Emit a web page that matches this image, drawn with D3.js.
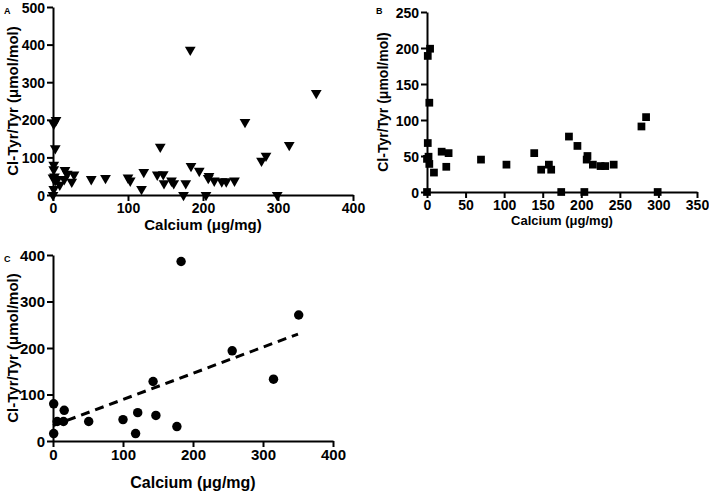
<!DOCTYPE html>
<html><head><meta charset="utf-8">
<script src="https://cdn.jsdelivr.net/npm/d3@7"></script>
<style>
html,body{margin:0;padding:0;background:#fff;}
svg{display:block;font-family:"Liberation Sans",Arial,Helvetica,sans-serif;font-weight:bold;}
</style></head>
<body><svg id="chart" width="709" height="492"></svg>
<script>
// Panel B data (squares): calcium (µg/mg), Cl-Tyr/Tyr (µmol/mol)
const calciumB = [0,0,1,1,2,3,3,4,9,19,25,28,70,103,139,148,158,161,174,184,195,207,208,215,225,231,242,204,278,284,299];
const clTyrB   = [0,46,189,68,49,39,124,199,27,56,35,54,45,38,54,31,38,31,0,77,64,45,50,38,36,36,38,0,91,104,0];
// Panel C data (circles)
const calciumC = [1,1,6,15,16,51,100,118,121,143,147,177,183,256,315,351];
const clTyrC   = [16,80,42,42,66,42,46,16,61,128,55,31,386,194,133,271];
// Panel C regression line (calcium, Cl-Tyr/Tyr) at its two ends
const fitCalcium = [0, 350];
const fitClTyr   = [33, 230];
// Tick labels
const ticksAx = [0,100,200,300,400];
const ticksAy = [0,100,200,300,400,500];
const ticksBx = [0,50,100,150,200,250,300,350];
const ticksBy = [0,50,100,150,200,250];
const ticksCx = [0,100,200,300,400];
const ticksCy = [0,100,200,300,400];

const yTitle = "Cl-Tyr/Tyr (\u03bcmol/mol)";
const xTitle = "Calcium (\u03bcg/mg)";
const tickFont = "'Liberation Sans Narrow','Arial Narrow','Liberation Sans',Arial,sans-serif";

const svg = d3.select("#chart");

function panel(o){
  const g = svg.append("g");
  const x = d3.scaleLinear().domain(o.xd).range([o.x0, o.x1]);
  const y = d3.scaleLinear().domain(o.yd).range([o.y0, o.y1]);
  const xa = g.append("g").attr("transform",`translate(0,${o.y0})`)
    .call(d3.axisBottom(x).tickValues(o.xt).tickSize(6).tickPadding(2).tickSizeOuter(0));
  const ya = g.append("g").attr("transform",`translate(${o.x0},0)`)
    .call(d3.axisLeft(y).tickValues(o.yt).tickSize(6).tickPadding(2).tickSizeOuter(0));
  [xa,ya].forEach(a=>{
    a.select(".domain").attr("stroke","#000").attr("stroke-width",2);
    a.selectAll(".tick line").attr("stroke","#000").attr("stroke-width",2);
    a.selectAll(".tick text").attr("fill","#000").style("font-size",o.tf+"px")
      .style("font-family",tickFont).style("font-weight","bold");
  });
  xa.selectAll(".tick text").attr("dy","0.72em");
  ya.selectAll(".tick text").attr("dy","0.36em");
  // points
  const sym = d3.symbol().type(o.sym).size(o.ss);
  g.append("g").selectAll("path").data(o.xs.map((v,i)=>[v,o.ys[i]])).join("path")
    .attr("d",sym)
    .attr("transform",d=>`translate(${x(d[0])},${y(d[1])})${o.rot?" rotate(180)":""}`)
    .attr("fill","#000");
  if(o.fit){
    g.append("line")
      .attr("x1",x(o.fit[0][0])).attr("y1",y(o.fit[1][0]))
      .attr("x2",x(o.fit[0][1])).attr("y2",y(o.fit[1][1]))
      .attr("stroke","#000").attr("stroke-width",3).attr("stroke-dasharray","9,6");
  }
  // titles
  g.append("text").attr("x",(o.x0+o.x1)/2).attr("y",o.xty).attr("text-anchor","middle")
    .style("font-size",o.xtf+"px").text(xTitle);
  g.append("text").attr("transform",`translate(${o.ytx},${(o.y0+o.y1)/2}) rotate(-90)`)
    .attr("text-anchor","middle").style("font-size",o.ytf+"px").text(yTitle);
  g.append("text").attr("x",o.lx).attr("y",o.ly).style("font-size","9px").text(o.label);
}

panel({x0:53,x1:353,y0:195,y1:7,xd:[0,400],yd:[0,500],xt:ticksAx,yt:ticksAy,
  xs:calciumB.concat(calciumC), ys:clTyrB.concat(clTyrC),
  sym:d3.symbolTriangle, ss:50, rot:true, tf:14, xtf:15, ytf:15, xty:230, ytx:18,
  label:"A", lx:4, ly:14});
panel({x0:427,x1:697,y0:192,y1:12,xd:[0,350],yd:[0,250],xt:ticksBx,yt:ticksBy,
  xs:calciumB, ys:clTyrB, sym:d3.symbolSquare, ss:60, rot:false, tf:14, xtf:13, ytf:14, xty:225, ytx:388,
  label:"B", lx:376, ly:14});
panel({x0:53,x1:333,y0:441,y1:255,xd:[0,400],yd:[0,400],xt:ticksCx,yt:ticksCy,
  xs:calciumC, ys:clTyrC, sym:d3.symbolCircle, ss:70, rot:false, tf:15, xtf:16, ytf:15, xty:488, ytx:18,
  label:"C", lx:4, ly:262, fit:[fitCalcium, fitClTyr]});
</script></body></html>
